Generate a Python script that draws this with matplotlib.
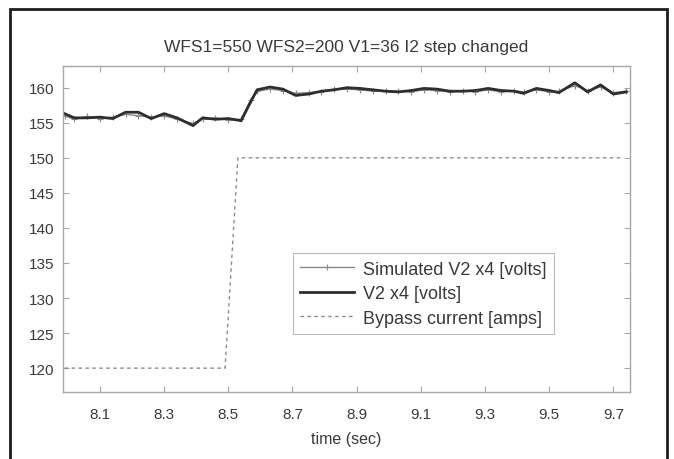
import numpy as np
import matplotlib
matplotlib.use('Agg')
import matplotlib.pyplot as plt
from matplotlib.patches import Rectangle

plt.rcParams['font.family'] = ['Liberation Sans', 'DejaVu Sans']

# Data
time_v2 = [7.99, 8.02, 8.06, 8.10, 8.14, 8.18, 8.22, 8.26, 8.30, 8.34, 8.39, 8.42,
           8.46, 8.50, 8.54, 8.57, 8.59, 8.63, 8.67, 8.71, 8.75, 8.79, 8.83, 8.87,
           8.91, 8.95, 8.99, 9.03, 9.07, 9.11, 9.15, 9.19, 9.23, 9.27, 9.31, 9.35,
           9.39, 9.42, 9.46, 9.50, 9.53, 9.58, 9.62, 9.66, 9.70, 9.74]
v2_meas = [156.3, 155.7, 155.7, 155.8, 155.6, 156.5, 156.5, 155.6, 156.3, 155.7, 154.6, 155.7,
           155.5, 155.6, 155.3, 158.0, 159.7, 160.1, 159.8, 158.9, 159.1, 159.5, 159.7, 160.0,
           159.9, 159.7, 159.5, 159.4, 159.6, 159.9, 159.8, 159.5, 159.5, 159.6, 159.9, 159.6,
           159.5, 159.2, 159.9, 159.6, 159.3, 160.7, 159.4, 160.4, 159.1, 159.4]
v2_sim = [156.0, 155.5, 155.9, 155.6, 155.8, 156.2, 156.0, 155.8, 156.0, 155.5, 154.9, 155.5,
          155.7, 155.4, 155.5, 158.3, 159.5, 159.8, 159.6, 159.2, 159.3, 159.4, 159.8, 159.8,
          159.7, 159.5, 159.6, 159.5, 159.4, 159.7, 159.6, 159.4, 159.6, 159.4, 159.7, 159.4,
          159.6, 159.4, 159.7, 159.4, 159.5, 160.3, 159.6, 160.1, 159.3, 159.5]

time_bypass = [7.99, 8.49, 8.53, 9.73]
bypass_amps = [120, 120, 150, 150]

xticks = [8.1, 8.3, 8.5, 8.7, 8.9, 9.1, 9.3, 9.5, 9.7]
yticks = [120, 125, 130, 135, 140, 145, 150, 155, 160]

TextColor = '#3a3a3a'
AxisColor = '#a8a8a8'

Figure = plt.figure(figsize=(6.74, 4.6), dpi=100)
Axes = Figure.add_axes([0.0935, 0.1457, 0.8413, 0.7087])

Axes.plot(time_v2, v2_sim, color='#8a8a8a', linewidth=1.0, marker='+', markersize=4,
          markeredgewidth=0.8, label='Simulated V2 x4 [volts]')
Axes.plot(time_v2, v2_meas, color='#2e2e2e', linewidth=2.0, label='V2 x4 [volts]')
Axes.plot(time_bypass, bypass_amps, color='#8a8a8a', linewidth=1.0, linestyle=(0, (2.5, 2.5)),
          label='Bypass current [amps]')

Axes.set_xlim([7.985, 9.752])
Axes.set_ylim([116.6, 163.1])
Axes.set_xticks(xticks)
Axes.set_xticklabels(['%.1f' % t for t in xticks])
Axes.set_yticks(yticks)
Axes.tick_params(direction='in', top=True, right=True, length=4, width=0.8,
                 color=AxisColor, labelcolor=TextColor, labelsize=11)
Axes.tick_params(axis='x', pad=11)
Axes.tick_params(axis='y', pad=6)
for Spine in Axes.spines.values():
    Spine.set_color(AxisColor)
    Spine.set_linewidth(1.0)

Axes.set_title('WFS1=550 WFS2=200 V1=36 I2 step changed', color=TextColor, fontsize=12.5, pad=11)
Axes.set_xlabel('time (sec)', color=TextColor, fontsize=11.5, labelpad=7)

Legend = Axes.legend(loc='lower left', bbox_to_anchor=(0.405, 0.178), fontsize=13,
                     frameon=True, fancybox=False, borderpad=0.4, handlelength=3.0,
                     labelspacing=0.42, handletextpad=0.5, borderaxespad=0.0)
Legend.get_frame().set_edgecolor(AxisColor)
Legend.get_frame().set_linewidth(0.8)
for Text in Legend.get_texts():
    Text.set_color(TextColor)

# Outer frame of the scanned figure
Figure.add_artist(Rectangle((0.0148, -0.05), 0.975, 1.028, transform=Figure.transFigure,
                            fill=False, edgecolor='#1e1e1e', linewidth=2.0))

Figure.savefig('out.png', dpi=100)
plt.close(Figure)
